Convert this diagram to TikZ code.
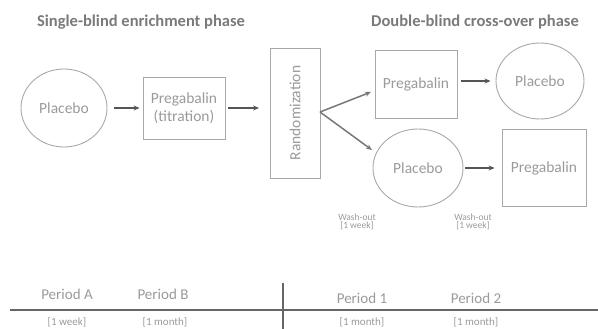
\documentclass[tikz,border=0pt]{standalone}
\usepackage{fontspec}
\setmainfont{Carlito}
\usetikzlibrary{shapes.geometric,arrows.meta}
\definecolor{txt}{HTML}{9A9A9A}
\definecolor{ttl}{HTML}{7A7A7A}
\definecolor{edge}{HTML}{A8A8A8}
\definecolor{arr}{HTML}{555555}
\tikzset{
  ell/.style={ellipse, draw=edge, line width=0.9pt, text=txt, font=\fontsize{15.5}{18}\selectfont, inner sep=0pt},
  box/.style={rectangle, draw=edge, line width=0.9pt, text=txt, font=\fontsize{15.5}{18}\selectfont, align=center, inner sep=0pt},
  arrw/.style={draw=arr, line width=1.5pt, -{Stealth[length=6pt,width=5pt]}},
  title/.style={text=ttl, font=\bfseries\fontsize{16.5}{19}\selectfont},
  small/.style={text=txt, font=\fontsize{9.5}{11}\selectfont},
  period/.style={text=txt, font=\fontsize{15}{18}\selectfont},
  brk/.style={text=txt, font=\fontsize{11}{13}\selectfont},
}
\begin{document}
\begin{tikzpicture}[x=1pt,y=-1pt]
\useasboundingbox (0,0) rectangle (598,329);
\node[title] (t1) at (141,22) {Single-blind enrichment phase};
\node[title] (t2) at (475,22) {Double-blind cross-over phase};

\node[ell, minimum width=86pt, minimum height=78pt] (p0) at (64,108) {Placebo};
\node[box, minimum width=82pt, minimum height=62pt] (tit) at (184,108) {Pregabalin\\(titration)};
\node[box, minimum width=130pt, minimum height=50pt, rotate=90] (rnd) at (295,113) {Randomization};
\node[box, minimum width=82pt, minimum height=68pt] (pg1) at (416,84) {Pregabalin};
\node[ell, minimum width=88pt, minimum height=76pt] (pl1) at (540,81) {Placebo};
\node[ell, minimum width=90pt, minimum height=78pt] (pl2) at (418,168) {Placebo};
\node[box, minimum width=84pt, minimum height=77pt] (pg2) at (544,168) {Pregabalin};

\coordinate (e0) at (259,108);
\coordinate (e1) at (371,92);
\coordinate (e2) at (372,150);
\coordinate (r0) at (320,112);

\draw[arrw, shorten <=7pt, shorten >=3pt] (p0.east) -- (tit.west);
\draw[arrw, shorten <=3pt] (tit.east) -- (e0);
\draw[arrw, draw=arr!80] (r0) -- (e1);
\draw[arrw, draw=arr!80] (r0) -- (e2);
\draw[arrw, shorten <=4pt, shorten >=5pt] (pg1.east |- pl1.west) -- (pl1.west);
\draw[arrw, shorten <=2pt, shorten >=7pt] (pl2.east) -- (pg2.west);

\node[small] (w1) at (357,217) {Wash-out};
\node[small] (w1b) at (357,226) {[1 week]};
\node[small] (w2) at (473,217) {Wash-out};
\node[small] (w2b) at (473,226) {[1 week]};

\coordinate (la) at (10,310);
\coordinate (lb) at (598,310);
\coordinate (va) at (283,283);
\coordinate (vb) at (283,329);
\draw[draw=arr!90, line width=1.2pt] (la) -- (lb);
\draw[draw=arr!90, line width=1.2pt] (va) -- (vb);

\node[period] (pa) at (67,294) {Period A};
\node[period] (pb) at (163,294) {Period B};
\node[period] (p1) at (362,298) {Period 1};
\node[period] (p2) at (476,298) {Period 2};
\node[brk] (ba) at (67,322) {[1 week]};
\node[brk] (bb) at (165,322) {[1 month]};
\node[brk] (b1) at (362,322) {[1 month]};
\node[brk] (b2) at (476,322) {[1 month]};
\end{tikzpicture}
\end{document}
